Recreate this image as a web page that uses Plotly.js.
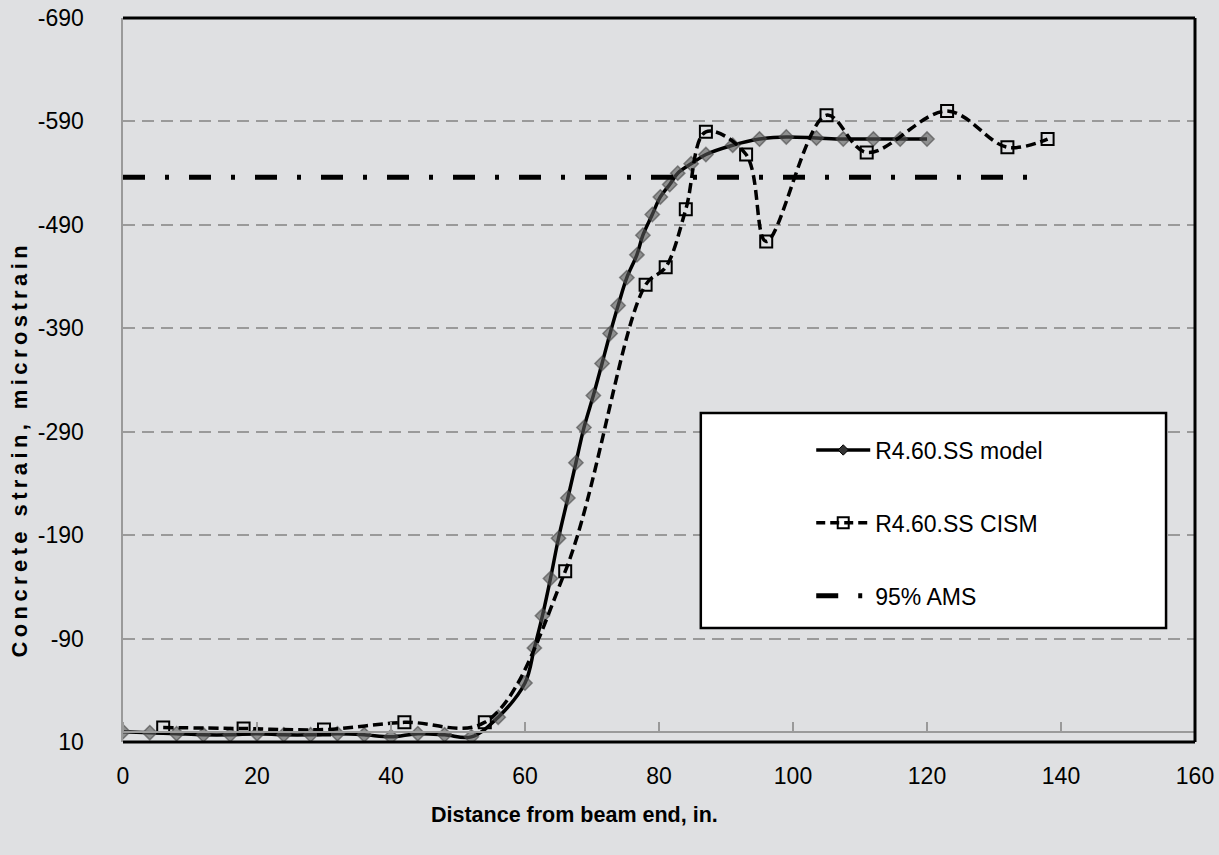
<!DOCTYPE html>
<html>
<head>
<meta charset="utf-8">
<script src="https://cdn.plot.ly/plotly-3.0.1.min.js"></script>
<style>
html,body{margin:0;padding:0;background:#dfe0e2;}
#chart{width:1219px;height:855px;}
.ytitle-wide text{letter-spacing:4.4px;}
</style>
</head>
<body>
<div id="chart"></div>
<script>
// Model series (distance, in. / strain, microstrain)
const modelX = [0,4,8,12,16,20,24,28,32,36,40,44,48,52,56,60,61.4,62.6,63.8,65,66.4,67.6,68.8,70.2,71.5,72.7,73.9,75.2,76.7,77.6,79,80.2,81.6,82.8,84.8,87,91,95,99,103.5,107.5,112,116,120];
const modelY = [0,1,2,3,3,2,3,3,2,3,5,2,3,5,-14,-47,-81,-112,-148,-187,-226,-260,-294,-325,-356,-385,-412,-439,-461,-480,-500,-517,-529,-540,-549,-558,-567,-573,-575,-574,-573,-573,-573,-573];
// CISM measurements
const cismX = [6,18,30,42,54,66,78,81,84,87,93,96,105,111,123,132,138];
const cismY = [-4,-3,-2,-9,-9,-155,-432,-449,-505,-580,-558,-474,-596,-560,-600,-565,-573];
// 95% AMS level
const amsX = [0,135];
const amsY = [-536,-536];
// Axis ticks
const xTicks = [0,20,40,60,80,100,120,140,160];
const yTicks = [-690,-590,-490,-390,-290,-190,-90,10];

const names = ['R4.60.SS model','R4.60.SS CISM','95% AMS'];
const FONT = 'Liberation Sans, Arial, Helvetica, sans-serif';

const modelLine = {color:'#000', width:3.5, shape:'spline', smoothing:1};
const cismLine = {color:'#000', width:3.5, dash:'10px,5px', shape:'spline', smoothing:1};
const amsLine = {color:'#000', width:5, dash:'22px,20px,4px,20px'};

const traces = [
  {x:modelX, y:modelY, type:'scatter', mode:'lines+markers', name:names[0], showlegend:false,
   line:modelLine,
   marker:{symbol:'diamond', size:11, color:'rgba(90,90,90,0.6)', line:{color:'rgba(70,70,70,0.6)', width:1.5}}},
  {x:cismX, y:cismY, type:'scatter', mode:'lines+markers', name:names[1], showlegend:false,
   line:cismLine,
   marker:{symbol:'square-open', size:12, color:'#000', line:{width:2}}},
  {x:amsX, y:amsY, type:'scatter', mode:'lines', name:names[2], showlegend:false, xaxis:'x2',
   line:amsLine},
  // legend entries
  {x:[null], y:[null], type:'scatter', mode:'lines+markers', name:names[0], legendgroup:'a',
   line:{color:'#000', width:3.5}, marker:{symbol:'diamond', size:8, color:'#333', line:{color:'#000', width:1}}},
  {x:[null], y:[null], type:'scatter', mode:'lines+markers', name:names[1], legendgroup:'b',
   line:{color:'#000', width:3.5, dash:'9px,5px'}, marker:{symbol:'square-open', size:11, color:'#000', line:{width:2}}},
  {x:[null], y:[null], type:'scatter', mode:'lines+markers', name:names[2], legendgroup:'c',
   line:amsLine, marker:{size:11, opacity:0, color:'rgba(0,0,0,0)'}}
];

const layout = {
  width:1219, height:855,
  margin:{l:123, r:24, t:18, b:113},
  paper_bgcolor:'#dfe0e2',
  plot_bgcolor:'rgba(0,0,0,0)',
  font:{family:FONT, size:23, color:'#000'},
  showlegend:true,
  xaxis:{range:[0,160], tickvals:xTicks, ticktext:xTicks.map(String), showgrid:false, zeroline:false,
         showline:false, ticks:'', ticklabelstandoff:18, tickfont:{size:23}},
  xaxis2:{range:[0,160], overlaying:'x', anchor:'free', position:10/700, side:'top',
          tickvals:xTicks, showticklabels:false, ticks:'outside', ticklen:9, tickwidth:2, tickcolor:'#9a9a9a',
          showline:true, linecolor:'#9a9a9a', linewidth:2, showgrid:false, zeroline:false},
  yaxis:{range:[10,-690], tickvals:yTicks, ticktext:yTicks.map(String), showgrid:true, gridcolor:'#9a9a9a',
         gridwidth:2, griddash:'12px,7px', zeroline:false, showline:true, linecolor:'#9a9a9a', linewidth:2.5,
         ticks:'inside', ticklen:11, tickwidth:2, tickcolor:'#9a9a9a', ticklabelstandoff:32, tickfont:{size:23}},
  legend:{x:0.642, y:0.433, xanchor:'left', yanchor:'top', bgcolor:'rgba(0,0,0,0)', borderwidth:0,
          itemwidth:54, tracegroupgap:40, font:{size:23}, traceorder:'grouped'},
  shapes:[
    {type:'rect', xref:'paper', yref:'paper', x0:0.539, x1:0.973, y0:0.1575, y1:0.4544,
     fillcolor:'#ffffff', line:{color:'#000', width:2.5}, layer:'above'},
    {type:'line', xref:'paper', yref:'paper', x0:0, x1:1, y0:1, y1:1, line:{color:'#000', width:3}, layer:'above'},
    {type:'line', xref:'paper', yref:'paper', x0:1, x1:1, y0:0, y1:1, line:{color:'#000', width:3}, layer:'above'},
    {type:'line', xref:'paper', yref:'paper', x0:0, x1:1, y0:0, y1:0, line:{color:'#000', width:3}, layer:'above'}
  ],
  annotations:[
    {text:'<b>Distance from beam end, in.</b>', xref:'paper', yref:'paper', x:0.4216, y:-0.1008,
     xanchor:'center', yanchor:'middle', showarrow:false, font:{size:21.5}},
    {text:'<b>Concrete strain, microstrain</b>', xref:'paper', yref:'paper', x:-0.0961, y:0.4047,
     xanchor:'center', yanchor:'middle', showarrow:false, textangle:-90, font:{size:22}}
  ]
};

Plotly.newPlot('chart', traces, layout, {displayModeBar:false, staticPlot:true}).then(function(){
  const anns = document.querySelectorAll('#chart .annotation');
  if (anns.length > 1) anns[1].classList.add('ytitle-wide');
});
</script>
</body>
</html>
